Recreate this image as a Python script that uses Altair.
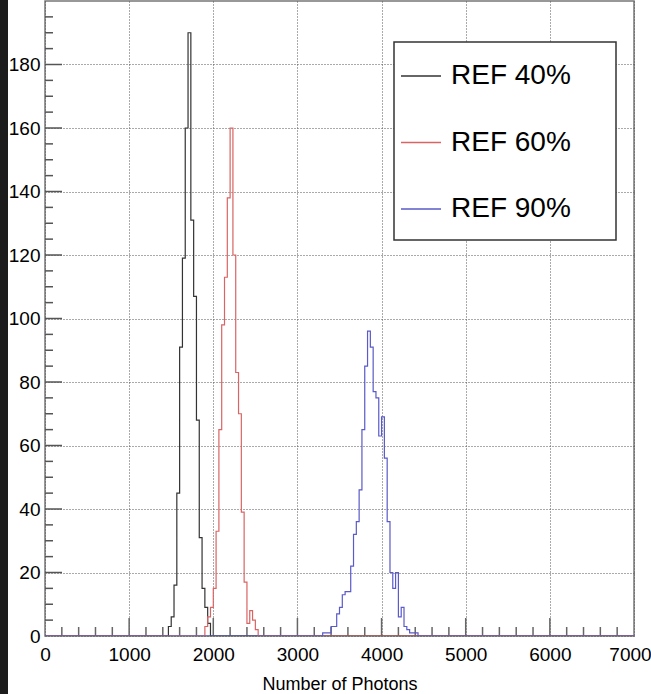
import altair as alt
import pandas as pd

FONT = "Liberation Sans, Arial, Helvetica, sans-serif"

# histogram definition
BIN_WIDTH = 100 / 3
X_MAX = 7000
Y_MAX = 200

series_names = ["REF 40%", "REF 60%", "REF 90%"]
series_colors = ["#333333", "#d96464", "#5a5ac8"]

# counts per bin (first bin index, then consecutive bin contents)
ref40_first_bin = 44
ref40_counts = [3, 6, 16, 45, 91, 119, 160, 190, 131, 107, 68, 31, 15, 9, 4]
ref60_first_bin = 57
ref60_counts = [3, 6, 9, 15, 33, 65, 98, 113, 138, 160, 120, 83, 70, 39, 17, 4, 8, 5, 2]
ref90_first_bin = 99
ref90_counts = [1, 1, 1, 3, 3, 7, 9, 13, 14, 14, 22, 32, 36, 46, 65, 85, 96, 91, 77,
                75, 63, 69, 56, 36, 20, 15, 20, 6, 9, 3, 2, 1, 1, 1]

x_major = [0, 1000, 2000, 3000, 4000, 5000, 6000, 7000]
x_minor = [v for v in range(200, 7000, 200) if v % 1000]
y_major = [0, 20, 40, 60, 80, 100, 120, 140, 160, 180]
y_minor = [v for v in range(5, 200, 5) if v % 20]

rows = []
for name, first, counts in zip(series_names,
                               [ref40_first_bin, ref60_first_bin, ref90_first_bin],
                               [ref40_counts, ref60_counts, ref90_counts]):
    pts = [(0.0, 0)]
    for k, c in enumerate(counts):
        pts.append(((first + k) * BIN_WIDTH, c))
    pts.append(((first + len(counts)) * BIN_WIDTH, 0))
    pts.append((X_MAX, 0))
    for i, (x, y) in enumerate(pts):
        rows.append({"series": name, "x": x, "y": y, "i": i})
hist = pd.DataFrame(rows)

W, H = 589, 635
xscale = alt.Scale(domain=[0, X_MAX], nice=False, zero=False)
yscale = alt.Scale(domain=[0, Y_MAX], nice=False)

xaxis = alt.Axis(values=x_major, format="d", tickSize=0, domain=False, grid=True,
                 gridDash=[1, 2], gridColor="#555555", gridWidth=1,
                 labelFont=FONT, labelFontSize=19, labelColor="black", labelPadding=9,
                 labelOffset={"condition": {"test": "datum.value === 7000", "value": -4}, "value": 0},
                 title="Number of Photons", titleFont=FONT, titleFontSize=18,
                 titleFontWeight="normal", titleColor="black", titlePadding=11,
                 labelFlush=False)
yaxis = alt.Axis(values=y_major, format="d", tickSize=0, domain=False, grid=True,
                 gridDash=[1, 2], gridColor="#555555", gridWidth=1,
                 labelFont=FONT, labelFontSize=19, labelColor="black", labelPadding=5,
                 title=None, labelFlush=False)

lines = alt.Chart(hist).mark_line(interpolate="step-after", strokeWidth=1.2, clip=True).encode(
    x=alt.X("x:Q", scale=xscale, axis=xaxis),
    y=alt.Y("y:Q", scale=yscale, axis=yaxis),
    color=alt.Color("series:N", scale=alt.Scale(domain=series_names, range=series_colors),
                    legend=alt.Legend(orient="none", legendX=355, legendY=54, title=None,
                                      labelFont=FONT, labelFontSize=28, labelColor="black",
                                      symbolType="stroke", symbolSize=1600,
                                      symbolStrokeWidth=1.3, rowPadding=31.5, labelOffset=9,
                                      padding=0, labelLimit=400)),
    order="i:Q",
)

xmaj = alt.Chart(pd.DataFrame({"v": x_major[1:-1]})).mark_rule(color="#666666", strokeWidth=1.5).encode(
    x=alt.X("v:Q", scale=xscale), y=alt.value(H), y2=alt.value(H - 18))
xmin = alt.Chart(pd.DataFrame({"v": x_minor})).mark_rule(color="#666666", strokeWidth=1.5).encode(
    x=alt.X("v:Q", scale=xscale), y=alt.value(H), y2=alt.value(H - 9))
ymaj = alt.Chart(pd.DataFrame({"v": y_major[1:]})).mark_rule(color="#555555", strokeWidth=1.5).encode(
    y=alt.Y("v:Q", scale=yscale), x=alt.value(0), x2=alt.value(17))
ymin = alt.Chart(pd.DataFrame({"v": y_minor})).mark_rule(color="#555555", strokeWidth=1.5).encode(
    y=alt.Y("v:Q", scale=yscale), x=alt.value(0), x2=alt.value(8))

one = pd.DataFrame({"a": [0]})
strip = alt.Chart(one).mark_rect(color="#1c1c1c").encode(
    x=alt.value(-45), x2=alt.value(-37), y=alt.value(-1), y2=alt.value(693))
box = alt.Chart(one).mark_rect(fill="white", stroke="#333333", strokeWidth=1.5).encode(
    x=alt.value(349), x2=alt.value(571), y=alt.value(41), y2=alt.value(239))

chart = alt.layer(strip, xmaj, xmin, ymaj, ymin, lines, box).properties(
    width=W, height=H, background="white",
    padding={"left": 45, "top": 1, "right": 17, "bottom": 58},
    autosize=alt.AutoSizeParams(type="none"),
).configure_view(stroke="#777777", strokeWidth=1.5)

chart.save("out.html", embed_options={"renderer": "svg", "actions": False})
